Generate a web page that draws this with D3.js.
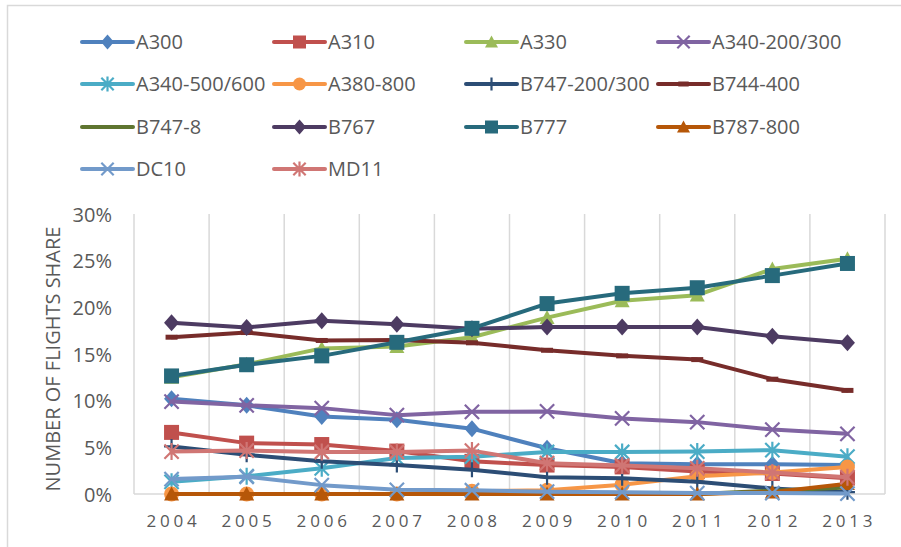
<!DOCTYPE html>
<html>
<head>
<meta charset="utf-8">
<script src="https://cdn.jsdelivr.net/npm/d3@7"></script>
<style>
  html, body { margin: 0; padding: 0; background: #ffffff; }
  svg { display: block; font-family: "Open Sans", sans-serif; }
</style>
</head>
<body>
<svg id="chart" width="901" height="547"></svg>
<script>
// ---------- DATA ----------
const years = ["2004","2005","2006","2007","2008","2009","2010","2011","2012","2013"];
const yTicks = [0, 5, 10, 15, 20, 25, 30];

const seriesNames = ["A300","A310","A330","A340-200/300","A340-500/600","A380-800",
  "B747-200/300","B744-400","B747-8","B767","B777","B787-800","DC10","MD11"];

const A300     = [10.2, 9.5, 8.3, 7.95, 7.0, 4.9, 3.3, 3.2, 3.2, 3.1];
const A310     = [6.6, 5.45, 5.3, 4.6, 3.5, 3.1, 2.9, 2.4, 2.2, 1.7];
const A330     = [12.5, 13.9, 15.6, 15.8, 16.8, 18.9, 20.7, 21.3, 24.1, 25.2];
const A340_200 = [9.9, 9.5, 9.2, 8.45, 8.8, 8.85, 8.1, 7.7, 6.9, 6.45];
const A340_500 = [1.3, 1.9, 2.75, 3.85, 4.0, 4.5, 4.5, 4.55, 4.7, 4.0];
const A380     = [0, 0, 0, 0, 0.3, 0.4, 1.0, 1.9, 2.3, 2.9];
const B747_200 = [5.1, 4.2, 3.5, 3.1, 2.6, 1.8, 1.7, 1.3, 0.6, 0.2];
const B744     = [16.8, 17.3, 16.45, 16.5, 16.2, 15.4, 14.8, 14.4, 12.3, 11.1];
const B747_8   = [0, 0, 0, 0, 0, 0, 0, 0, 0.35, 0.7];
const B767     = [18.35, 17.85, 18.55, 18.2, 17.7, 17.9, 17.9, 17.9, 16.9, 16.2];
const B777     = [12.65, 13.85, 14.8, 16.25, 17.75, 20.4, 21.5, 22.1, 23.4, 24.7];
const B787     = [0, 0, 0, 0, 0, 0, 0, 0, 0.2, 1.1];
const DC10     = [1.6, 1.85, 0.95, 0.45, 0.4, 0.25, 0.2, 0.1, 0.1, 0.05];
const MD11     = [4.55, 4.65, 4.5, 4.5, 4.65, 3.3, 3.05, 2.75, 2.3, 1.8];

const seriesValues = [A300, A310, A330, A340_200, A340_500, A380, B747_200, B744,
  B747_8, B767, B777, B787, DC10, MD11];

// ---------- STYLE ----------
const colors = ["#4F81BD","#C0504D","#9BBB59","#8064A2","#4BACC6","#F79646",
  "#2C4D75","#772C2A","#5F7530","#4D3B62","#276A7C","#B65708","#729ACA","#D07674"];
const markers = ["diamond","square","triangle","x","asterisk","circle",
  "plus","dash","none","diamond","square","triangle","x","asterisk"];

const series = seriesNames.map((name, i) => ({
  name, values: seriesValues[i], color: colors[i], marker: markers[i]
}));

const svg = d3.select("#chart");
const gridColor = "#d9d9d9";
const textColor = "#595959";

// outer chart border (only top/left visible in crop)
svg.append("rect")
  .attr("x", 7.5).attr("y", 5.5)
  .attr("width", 920).attr("height", 560)
  .attr("fill", "none").attr("stroke", gridColor).attr("stroke-width", 1.5);

// ---------- SCALES ----------
const plot = { left: 134, right: 885, top: 214, bottom: 494 };
const x = d3.scaleBand().domain(years).range([plot.left, plot.right]).padding(0);
const y = d3.scaleLinear().domain([0, 30]).range([plot.bottom, plot.top]);
const cx = d => x(d) + x.bandwidth() / 2;

// vertical gridlines at band boundaries
const bounds = years.map(d => x(d)).concat([plot.right]);
svg.append("g").selectAll("line").data(bounds).join("line")
  .attr("x1", d => d).attr("x2", d => d)
  .attr("y1", plot.top).attr("y2", plot.bottom)
  .attr("stroke", gridColor).attr("stroke-width", 1.5);

// bottom axis line
svg.append("line")
  .attr("x1", plot.left).attr("x2", plot.right)
  .attr("y1", plot.bottom).attr("y2", plot.bottom)
  .attr("stroke", gridColor).attr("stroke-width", 1.5);

// y axis labels
const yAxis = d3.axisLeft(y).tickValues(yTicks).tickSize(0).tickPadding(0)
  .tickFormat(d => d + "%");
const yg = svg.append("g").attr("transform", `translate(112,0)`).call(yAxis);
yg.select(".domain").remove();
yg.selectAll("text")
  .attr("font-family", "Open Sans").attr("font-size", 20)
  .attr("fill", textColor).attr("dy", "0.36em").attr("x", 0);

// x axis labels
const ls = 3.8;
const xAxis = d3.axisBottom(x).tickSize(0).tickPadding(0);
const xg = svg.append("g").attr("transform", `translate(0,527)`).call(xAxis);
xg.select(".domain").remove();
xg.selectAll("text")
  .attr("font-family", "Open Sans").attr("font-size", 17)
  .attr("fill", textColor).attr("y", 0).attr("dy", 0)
  .attr("dx", ls / 2)
  .style("letter-spacing", ls + "px");

// y title
svg.append("text")
  .attr("transform", "translate(53,359) rotate(-90)")
  .attr("text-anchor", "middle").attr("dy", "0.36em")
  .attr("font-family", "Open Sans").attr("font-size", 20)
  .attr("fill", textColor)
  .text("NUMBER OF FLIGHTS SHARE");

// ---------- MARKERS ----------
function drawMarker(g, type, color, s) {
  const h = s / 2;
  if (type === "diamond") {
    g.append("path").attr("d", `M0,${-h-1}L${h},0L0,${h+1}L${-h},0Z`).attr("fill", color);
  } else if (type === "square") {
    g.append("rect").attr("x", -h).attr("y", -h).attr("width", s).attr("height", s).attr("fill", color);
  } else if (type === "triangle") {
    g.append("path").attr("d", `M0,${-h}L${h},${h*0.85}L${-h},${h*0.85}Z`).attr("fill", color);
  } else if (type === "circle") {
    g.append("circle").attr("r", h).attr("fill", color);
  } else if (type === "x" || type === "asterisk") {
    const k = h * 0.95;
    g.append("path").attr("d", `M${-k},${-k}L${k},${k}M${-k},${k}L${k},${-k}` +
        (type === "asterisk" ? `M0,${-h-1}L0,${h+1}` : ""))
      .attr("stroke", color).attr("stroke-width", 2.2).attr("fill", "none");
  } else if (type === "plus") {
    g.append("path").attr("d", `M0,${-h}L0,${h}M${-h},0L${h},0`)
      .attr("stroke", color).attr("stroke-width", 2.2).attr("fill", "none");
  } else if (type === "dash") {
    g.append("path").attr("d", `M${-h*0.8},0L${h*0.8},0`)
      .attr("stroke", color).attr("stroke-width", 5).attr("fill", "none");
  }
}

// ---------- LINES ----------
const line = d3.line().x((d, i) => cx(years[i])).y(d => y(d));
const plotG = svg.append("g");
series.forEach(s => {
  const g = plotG.append("g");
  g.append("path").datum(s.values)
    .attr("d", line)
    .attr("fill", "none").attr("stroke", s.color)
    .attr("stroke-width", 4).attr("stroke-linejoin", "round").attr("stroke-linecap", "round");
  if (s.marker !== "none") {
    s.values.forEach((v, i) => {
      const mg = g.append("g").attr("transform", `translate(${cx(years[i])},${y(v)})`);
      drawMarker(mg, s.marker, s.color, 15);
    });
  }
});

// ---------- LEGEND ----------
const legCols = [82, 274, 466, 658];
const legRows = [42, 84, 127, 169];
const legLen = 51;
const legend = svg.append("g");
series.forEach((s, i) => {
  const col = i % 4, row = Math.floor(i / 4);
  const g = legend.append("g").attr("transform", `translate(${legCols[col]},${legRows[row]})`);
  g.append("line").attr("x1", 0).attr("x2", legLen).attr("y1", 0).attr("y2", 0)
    .attr("stroke", s.color).attr("stroke-width", 4).attr("stroke-linecap", "round");
  if (s.marker !== "none") {
    const mg = g.append("g").attr("transform", `translate(${legLen / 2},0)`);
    drawMarker(mg, s.marker, s.color, 13);
  }
  g.append("text").attr("x", legLen + 3).attr("y", 0).attr("dy", "0.36em")
    .attr("font-family", "Open Sans").attr("font-size", 20)
    .attr("fill", textColor).text(s.name);
});
</script>
</body>
</html>
